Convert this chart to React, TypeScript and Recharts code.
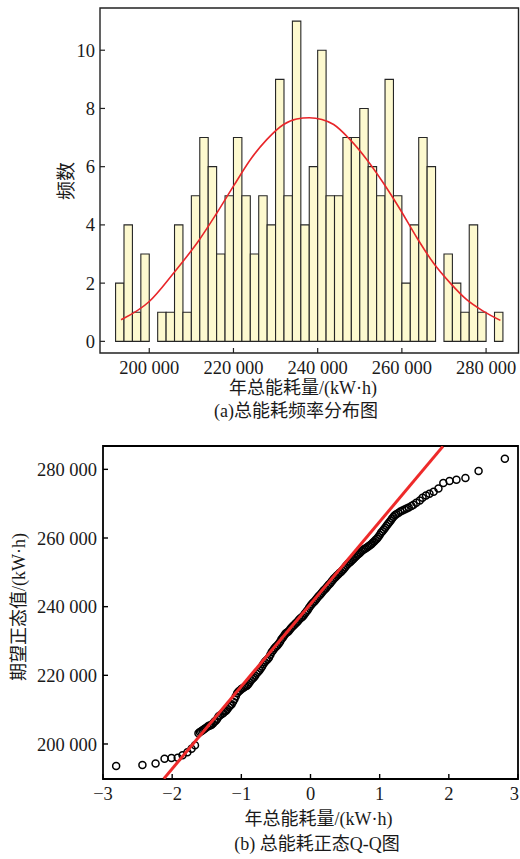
import React from "react";
import {
  ComposedChart,
  Line,
  Scatter,
  XAxis,
  YAxis,
  ReferenceArea,
} from "recharts";

// (a) histogram: bins of 2 000 kW·h starting at 192 000
const BIN_START = 192000;
const BIN_WIDTH = 2000;
const binCounts = [
  2, 4, 1, 3, 0, 1, 1, 4, 1, 5, 7, 6, 3, 5, 7, 5, 3, 5, 4, 9, 5, 11, 4, 6, 10,
  5, 5, 7, 7, 8, 6, 5, 9, 5, 2, 4, 7, 6, 0, 3, 2, 1, 4, 1, 0, 1,
];

// fitted normal curve
const curveX = [
  193300, 200000, 205800, 211900, 215800, 220000, 224000, 227900, 231900,
  235000, 238000, 241000, 243800, 247700, 251700, 255600, 259600, 263600,
  267500, 271500, 275400, 279400, 283400,
];
const curveY = [
  0.74, 1.37, 2.35, 3.49, 4.35, 5.33, 6.24, 6.93, 7.45, 7.64, 7.68, 7.62, 7.45,
  6.93, 6.24, 5.44, 4.53, 3.55, 2.69, 2.0, 1.43, 1.03, 0.72,
];

const histXTicks = [200000, 220000, 240000, 260000, 280000];
const histYTicks = [0, 2, 4, 6, 8, 10];

// (b) Q-Q plot: tails and main band
const qqZ = [
  -2.81, -2.43, -2.24, -2.11, -2.01, -1.92, -1.85, -1.78, -1.72, -1.67,
  -1.62, -1.58, -1.54, -1.49, -1.45, -1.41, -1.37, -1.33, -1.28, -1.24,
  -1.2, -1.16, -1.12, -1.08, -1.04, -1.0, -0.96, -0.92, -0.88, -0.84,
  -0.8, -0.76, -0.72, -0.68, -0.64, -0.6, -0.56, -0.52, -0.48, -0.44,
  -0.4, -0.36, -0.32, -0.28, -0.24, -0.2, -0.16, -0.12, -0.08, -0.04,
  0, 0.04, 0.08, 0.12, 0.16, 0.2, 0.24, 0.28, 0.32, 0.36,
  0.4, 0.44, 0.48, 0.52, 0.56, 0.6, 0.64, 0.68, 0.72, 0.76,
  0.8, 0.84, 0.88, 0.92, 0.96, 1.0, 1.04, 1.08, 1.12, 1.16,
  1.2, 1.24, 1.27, 1.3, 1.33, 1.36, 1.39, 1.42, 1.46, 1.49,
  1.53, 1.58, 1.62, 1.67, 1.72, 1.78, 1.85, 1.92, 2.01, 2.11,
  2.24, 2.43, 2.81,
];
const qqY = [
  193600, 193900, 194300, 195700, 195900, 196000, 196700, 197600, 198600, 199600,
  203100, 203700, 204300, 205000, 205400, 206000, 206800, 208000, 208700, 209500,
  210200, 211200, 212300, 213900, 215300, 216000, 216500, 217000, 218000, 219000,
  219900, 221000, 222000, 223300, 224300, 225200, 226800, 227900, 228700, 229800,
  231000, 232200, 232800, 233800, 234600, 235400, 236300, 237000, 238000, 239000,
  240300, 241200, 242100, 243100, 244000, 244900, 245800, 246700, 247700, 248600,
  249400, 250100, 251000, 252000, 252800, 253500, 254300, 255100, 255800, 256500,
  257000, 257600, 258200, 259000, 259800, 260900, 262000, 263000, 264100, 265100,
  266200, 266900, 267300, 267700, 268000, 268300, 268600, 268900, 269300, 269700,
  270300, 270900, 271700, 272400, 272900, 273500, 274400, 276000, 276600, 277000,
  277500, 279500, 283100,
];
// further points inside the dense band
const qqBandZ = [
  -1.6, -1.56, -1.52, -1.47, -1.43, -1.39, -1.35, -1.31, -1.26, -1.22,
  -1.18, -1.14, -1.1, -1.06, -1.02, -0.98, -0.94, -0.9, -0.86, -0.82,
  -0.78, -0.74, -0.7, -0.66, -0.62, -0.58, -0.54, -0.5, -0.46, -0.42,
  -0.38, -0.34, -0.3, -0.26, -0.22, -0.18, -0.14, -0.1, -0.06, -0.02,
  0.02, 0.06, 0.1, 0.14, 0.18, 0.22, 0.26, 0.3, 0.34, 0.38,
  0.42, 0.46, 0.5, 0.54, 0.58, 0.62, 0.66, 0.7, 0.74, 0.78,
  0.82, 0.86, 0.9, 0.94, 0.98, 1.02, 1.06, 1.1, 1.14, 1.18,
  1.22,
];
const qqBandY = [
  203500, 204000, 204600, 205300, 205600, 206500, 207300, 208300, 209000, 209700,
  210800, 211600, 213000, 214800, 215600, 216200, 216800, 217400, 218600, 219400,
  220500, 221400, 222600, 223900, 224700, 226000, 227300, 228300, 229200, 230500,
  231600, 232500, 233300, 234200, 235000, 235800, 236700, 237400, 238500, 239700,
  240800, 241600, 242600, 243500, 244500, 245300, 246300, 247200, 248200, 249000,
  249800, 250500, 251500, 252400, 253100, 253900, 254700, 255400, 256200, 256800,
  257300, 257900, 258600, 259400, 260300, 261500, 262500, 263600, 264600, 265700,
  266600,
];
const qqLineZ = [-2.12, 1.915];
const qqLineY = [189900, 286700];

const qqXTicks = [-3, -2, -1, 0, 1, 2, 3];
const qqYTicks = [200000, 220000, 240000, 260000, 280000];

const SERIF = "'Liberation Serif', 'Noto Sans CJK SC', serif";
const TEXT = "#1a1a1a";
const TICK_FONT = 18.5;

const fmtThousands = (v: number) =>
  v >= 1000 ? `${Math.floor(v / 1000)} ${String(v % 1000).padStart(3, "0")}` : String(v);
const fmtSigned = (v: number) => (v < 0 ? `\u2212${Math.abs(v)}` : String(v));

const Label = ({ x, y, text, size = 18, rotate = false }: any) => (
  <div
    style={{
      position: "absolute",
      left: x,
      top: y,
      transform: `translate(-50%, -50%)${rotate ? " rotate(-90deg)" : ""}`,
      whiteSpace: "nowrap",
      fontSize: size,
      lineHeight: 1,
      fontFamily: SERIF,
      color: TEXT,
    }}
  >
    {text}
  </div>
);

const OpenCircle = (props: any) => (
  <circle cx={props.cx} cy={props.cy} r={3.5} fill="none" stroke="#000" strokeWidth={1.5} />
);

// x tick of the Q-Q plot; the last label is kept inside the picture
const QQXTick = (props: any) => {
  const { x, y, payload } = props;
  const last = payload.value === qqXTicks[qqXTicks.length - 1];
  return (
    <text
      x={last ? x + 1 : x}
      y={y}
      dy="0.71em"
      textAnchor={last ? "end" : "middle"}
      fontSize={TICK_FONT}
      fontFamily={SERIF}
      fill={TEXT}
    >
      {fmtSigned(payload.value)}
    </text>
  );
};

export default function App() {
  const curveData = curveX.map((x, i) => ({ x, f: curveY[i] }));
  const qqData = [
    ...qqZ.map((z, i) => ({ z, y: qqY[i] })),
    ...qqBandZ.map((z, i) => ({ z, y: qqBandY[i] })),
  ];
  const qqLine = qqLineZ.map((z, i) => ({ z, y: qqLineY[i] }));

  const histDomainX: [number, number] = [188300, 287700];
  const histDomainY: [number, number] = [-0.4, 11.45];
  const qqDomainX: [number, number] = [-3, 3];
  const qqDomainY: [number, number] = [189800, 286800];

  const tickStyle = { fontSize: TICK_FONT, fontFamily: SERIF, fill: TEXT };

  return (
    <div
      style={{
        position: "absolute",
        left: 0,
        top: 0,
        width: 520,
        height: 859,
        background: "#fff",
        overflow: "hidden",
      }}
    >
      {/* (a) frequency histogram */}
      <div style={{ position: "absolute", left: 0, top: 0 }}>
        <ComposedChart
          width={520}
          height={420}
          margin={{ top: 8, right: 1.5, bottom: 37, left: 40 }}
        >
          <XAxis
            type="number"
            dataKey="x"
            domain={histDomainX}
            ticks={histXTicks}
            interval={0}
            allowDataOverflow
            height={30}
            tickSize={-5}
            tickMargin={13}
            axisLine={false}
            tickLine={{ stroke: "#222", strokeWidth: 1.2 }}
            tick={tickStyle}
            tickFormatter={fmtThousands}
          />
          <YAxis
            type="number"
            domain={histDomainY}
            ticks={histYTicks}
            interval={0}
            allowDataOverflow
            width={60}
            tickSize={-5}
            tickMargin={10}
            axisLine={false}
            tickLine={{ stroke: "#222", strokeWidth: 1.2 }}
            tick={tickStyle}
          />
          {binCounts.map((c, i) =>
            c > 0 ? (
              <ReferenceArea
                key={i}
                x1={BIN_START + i * BIN_WIDTH}
                x2={BIN_START + (i + 1) * BIN_WIDTH}
                y1={0}
                y2={c}
                fill="#fdf9cf"
                fillOpacity={1}
                stroke="#262626"
                strokeWidth={1.1}
              />
            ) : null
          )}
          <ReferenceArea
            x1={histDomainX[0]}
            x2={histDomainX[1]}
            y1={histDomainY[0]}
            y2={histDomainY[1]}
            fill="none"
            stroke="#222"
            strokeWidth={1.4}
          />
          <Line
            data={curveData}
            dataKey="f"
            type="monotone"
            stroke="#e8262a"
            strokeWidth={1.6}
            dot={false}
            isAnimationActive={false}
          />
        </ComposedChart>
      </div>
      <Label x={66} y={181} text="频数" size={19} rotate />
      <Label x={303} y={388} text="年总能耗量/(kW·h)" />
      <Label x={296} y={411} text="(a)总能耗频率分布图" />

      {/* (b) normal Q-Q plot */}
      <div style={{ position: "absolute", left: 0, top: 430 }}>
        <ComposedChart
          width={520}
          height={430}
          margin={{ top: 16, right: 2, bottom: 51, left: 43 }}
        >
          <XAxis
            type="number"
            dataKey="z"
            domain={qqDomainX}
            ticks={qqXTicks}
            interval={0}
            allowDataOverflow
            height={30}
            tickSize={-5}
            tickMargin={13}
            axisLine={false}
            tickLine={{ stroke: "#000", strokeWidth: 1.4 }}
            tick={<QQXTick />}
          />
          <YAxis
            type="number"
            dataKey="y"
            domain={qqDomainY}
            ticks={qqYTicks}
            interval={0}
            allowDataOverflow
            width={60}
            tickSize={-5}
            tickMargin={11}
            axisLine={false}
            tickLine={{ stroke: "#000", strokeWidth: 1.4 }}
            tick={tickStyle}
            tickFormatter={fmtThousands}
          />
          <ReferenceArea
            x1={qqDomainX[0]}
            x2={qqDomainX[1]}
            y1={qqDomainY[0]}
            y2={qqDomainY[1]}
            fill="none"
            stroke="#000"
            strokeWidth={1.8}
          />
          <Scatter
            data={qqData}
            dataKey="y"
            shape={<OpenCircle />}
            isAnimationActive={false}
          />
          <Line
            data={qqLine}
            dataKey="y"
            type="linear"
            stroke="#ee2a2a"
            strokeWidth={3}
            dot={false}
            zIndex={900}
            isAnimationActive={false}
          />
        </ComposedChart>
      </div>
      <Label x={18.5} y={607} text="期望正态值/(kW·h)" rotate />
      <Label x={318.5} y={819} text="年总能耗量/(kW·h)" />
      <Label x={317} y={844} text="(b) 总能耗正态Q-Q图" />
    </div>
  );
}
